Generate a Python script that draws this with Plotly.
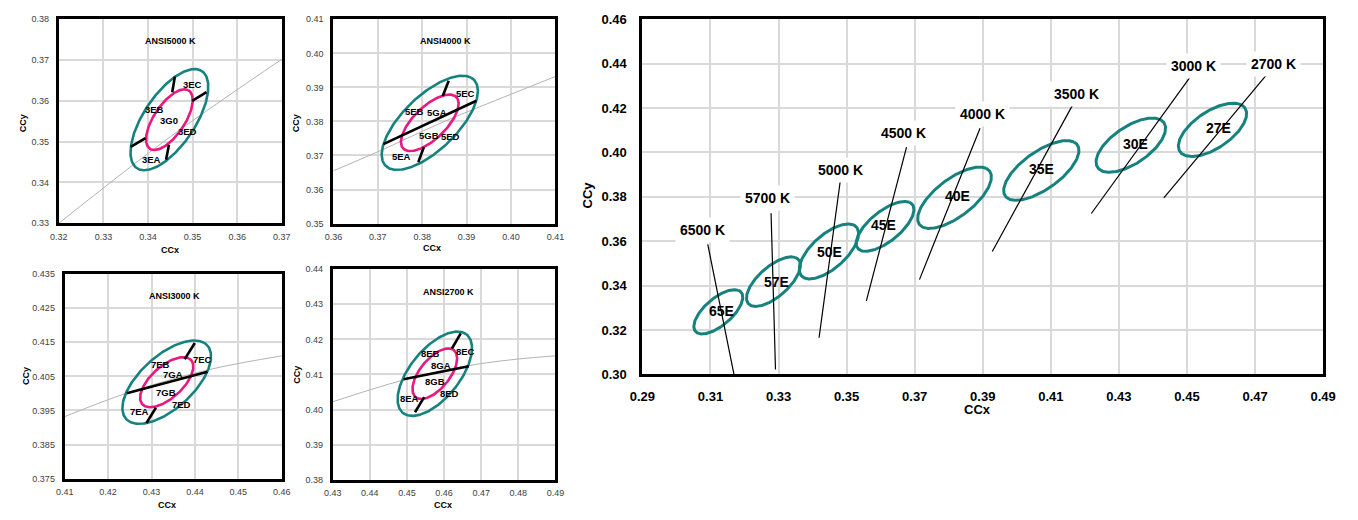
import numpy as np
import plotly.graph_objects as go

FONT = "Liberation Sans, Arial, sans-serif"
TEAL = "#16827e"
PINK = "#e8197f"
GRID = "#d9d9d9"
W, H = 1358, 520

# ---------------- big chart data ----------------
cct_labels = ["6500 K", "5700 K", "5000 K", "4500 K", "4000 K", "3500 K", "3000 K", "2700 K"]
bin_labels = ["65E", "57E", "50E", "45E", "40E", "35E", "30E", "27E"]
ell_cx = [0.3123, 0.3285, 0.3448, 0.3613, 0.3817, 0.4072, 0.4335, 0.4575]
ell_cy = [0.3282, 0.3418, 0.3554, 0.3667, 0.3796, 0.3919, 0.4033, 0.4102]
ell_a = [0.01135, 0.01264, 0.01397, 0.0130, 0.0162, 0.0160, 0.0144, 0.0141]
ell_b = [0.00475, 0.00525, 0.0059, 0.0054, 0.0068, 0.0069, 0.0068, 0.0068]
ell_theta = [58.4, 58.9, 59.5, 56.4, 55.0, 53.2, 53.1, 53.4]
bin_lx = [0.3132, 0.3293, 0.3450, 0.3608, 0.3825, 0.4074, 0.4348, 0.4593]
bin_ly = [0.3287, 0.3418, 0.3550, 0.3671, 0.3805, 0.3926, 0.4040, 0.4112]
iso_top_x = [0.3092, 0.3278, 0.3481, 0.3676, 0.3892, 0.4163, 0.4507, 0.4733]
iso_top_y = [0.3586, 0.3726, 0.3868, 0.4024, 0.4109, 0.4211, 0.4335, 0.4349]
iso_bot_x = [0.3169, 0.3291, 0.3419, 0.3558, 0.3714, 0.3928, 0.4219, 0.4432]
iso_bot_y = [0.3000, 0.3022, 0.3165, 0.3331, 0.3427, 0.3554, 0.3725, 0.3795]
cct_lx = [0.3078, 0.3267, 0.3481, 0.3667, 0.3899, 0.4176, 0.4518, 0.4754]
cct_ly = [0.3649, 0.3795, 0.3923, 0.4090, 0.4174, 0.4265, 0.4389, 0.4400]
big_xticks = [0.29, 0.31, 0.33, 0.35, 0.37, 0.39, 0.41, 0.43, 0.45, 0.47, 0.49]
big_yticks = [0.30, 0.32, 0.34, 0.36, 0.38, 0.40, 0.42, 0.44, 0.46]

# ---------------- small panels data ----------------
inner_scale = 0.6  # 3-step inside 5-step ellipse
panel_titles = ["ANSI5000 K", "ANSI4000 K", "ANSI3000 K", "ANSI2700 K"]
panel_ell = [2, 4, 6, 7]
panel_title_x = [0.3451, 0.38515, 0.43523, 0.46114]
panel_title_y = [0.3747, 0.40364, 0.42855, 0.43354]
panel_xrange = [[0.32, 0.37], [0.36, 0.41], [0.41, 0.46], [0.43, 0.49]]
panel_yrange = [[0.33, 0.38], [0.35, 0.41], [0.375, 0.435], [0.38, 0.44]]
panel_ytickfmt = [".2f", ".2f", ".3f", ".2f"]

locus_x = [[0.32, 0.345, 0.37],
           [0.36, 0.37, 0.385, 0.40, 0.41],
           [0.41, 0.4243, 0.4433, 0.46],
           [0.43, 0.44, 0.45, 0.46, 0.47, 0.48, 0.49]]
locus_y = [[0.330, 0.3512, 0.3702],
           [0.3655, 0.3711, 0.3800, 0.3880, 0.3932],
           [0.3932, 0.4001, 0.4070, 0.4110],
           [0.4022, 0.4056, 0.4087, 0.4112, 0.4131, 0.4144, 0.4153]]

seg_x = [
    [[0.33613, 0.33943], [0.34991, 0.35313], [0.34544, 0.34603], [0.34405, 0.34471]],
    [[0.37125, 0.39221], [0.38463, 0.38596], [0.37912, 0.38037]],
    [[0.42431, 0.44291], [0.43764, 0.43997], [0.42883, 0.43101]],
    [[0.44908, 0.46668], [0.46212, 0.46449], [0.45217, 0.45463]],
]
seg_y = [
    [[0.34873, 0.35087], [0.36000, 0.36214], [0.36214, 0.36595], [0.34556, 0.34928]],
    [[0.37336, 0.38608], [0.38750, 0.39196], [0.36804, 0.37250]],
    [[0.40006, 0.40633], [0.41003, 0.41478], [0.39133, 0.39579]],
    [[0.40862, 0.41231], [0.41739, 0.42173], [0.39921, 0.40353]],
]

sub_text = [["3EC", "3EB", "3G0", "3ED", "3EA"],
            ["5EC", "5EB", "5GA", "5GB", "5ED", "5EA"],
            ["7EB", "7EC", "7GA", "7GB", "7ED", "7EA"],
            ["8EB", "8EC", "8GA", "8GB", "8ED", "8EA"]]
sub_x = [[0.35006, 0.34148, 0.34479, 0.34896, 0.34089],
         [0.38985, 0.37824, 0.38331, 0.38147, 0.38632, 0.37544],
         [0.43199, 0.44178, 0.43500, 0.43342, 0.43688, 0.42724],
         [0.45631, 0.46581, 0.45921, 0.45763, 0.46141, 0.45067]]
sub_y = [[0.36413, 0.35794, 0.35524, 0.35238, 0.34556],
         [0.38826, 0.38294, 0.38275, 0.37592, 0.37554, 0.36956],
         [0.40861, 0.40984, 0.40567, 0.40016, 0.39684, 0.39484],
         [0.41600, 0.41666, 0.41250, 0.40788, 0.40447, 0.40308]]


def ellipse(cx, cy, a, b, th_deg, n=240):
    t = np.linspace(0, 2 * np.pi, n)
    th = np.radians(th_deg)
    x = cx + a * np.cos(t) * np.cos(th) - b * np.sin(t) * np.sin(th)
    y = cy + a * np.cos(t) * np.sin(th) + b * np.sin(t) * np.cos(th)
    return x, y


fig = go.Figure()

# pixel layout of plot areas (left, right, top, bottom)
boxes = [(46.7, 274.0, 12.7, 222.7),
         (326.7, 553.0, 12.7, 223.0),
         (52.7, 274.0, 275.0, 485.7),
         (326.0, 553.0, 270.0, 486.7),
         (641.7, 1335.7, 12.7, 378.3)]

layout_axes = {}
for i, (l, r, t, b) in enumerate(boxes):
    k = "" if i == 0 else str(i + 1)
    big = (i == 4)
    xd = [l / W, r / W]
    yd = [1 - b / H, 1 - t / H]
    common = dict(showgrid=True, gridcolor=GRID, gridwidth=2 if big else 1.5,
                  showline=True, linecolor="black", linewidth=3,
                  mirror=True, zeroline=False, ticks="outside",
                  tickcolor="rgba(0,0,0,0)", fixedrange=True)
    if big:
        xa = dict(domain=xd, anchor="y5", range=[0.29, 0.49], tickvals=big_xticks,
                  tickformat=".2f", ticklen=8,
                  tickfont=dict(family=FONT, size=13, color="black", weight="bold"), **common)
        ya = dict(domain=yd, anchor="x5", range=[0.30, 0.46], tickvals=big_yticks,
                  tickformat=".2f", ticklen=10,
                  tickfont=dict(family=FONT, size=13, color="black", weight="bold"), **common)
    else:
        xr = panel_xrange[i]
        yr = panel_yrange[i]
        xa = dict(domain=xd, anchor="y" + k, range=xr, dtick=0.01, tick0=xr[0],
                  tickformat=".2f", ticklen=3,
                  tickfont=dict(family=FONT, size=9, color="#404040"), **common)
        ya = dict(domain=yd, anchor="x" + k, range=yr, dtick=0.01, tick0=yr[0],
                  tickformat=panel_ytickfmt[i], ticklen=5,
                  tickfont=dict(family=FONT, size=9, color="#404040"), **common)
    layout_axes["xaxis" + k] = xa
    layout_axes["yaxis" + k] = ya

annotations = []

# ---- small panels ----
for p in range(4):
    k = "" if p == 0 else str(p + 1)
    xref, yref = "x" + k, "y" + k
    fig.add_trace(go.Scatter(x=locus_x[p], y=locus_y[p], mode="lines",
                             line=dict(color="#b3b3b3", width=1, shape="spline"),
                             xaxis=xref, yaxis=yref, showlegend=False, hoverinfo="skip"))
    e = panel_ell[p]
    ox, oy = ellipse(ell_cx[e], ell_cy[e], ell_a[e], ell_b[e], ell_theta[e])
    ix, iy = ellipse(ell_cx[e], ell_cy[e], ell_a[e] * inner_scale, ell_b[e] * inner_scale, ell_theta[e])
    fig.add_trace(go.Scatter(x=ox, y=oy, mode="lines", line=dict(color=TEAL, width=2.6),
                             xaxis=xref, yaxis=yref, showlegend=False, hoverinfo="skip"))
    fig.add_trace(go.Scatter(x=ix, y=iy, mode="lines", line=dict(color=PINK, width=2.6),
                             xaxis=xref, yaxis=yref, showlegend=False, hoverinfo="skip"))
    for sx, sy in zip(seg_x[p], seg_y[p]):
        fig.add_trace(go.Scatter(x=sx, y=sy, mode="lines", line=dict(color="black", width=2.6),
                                 xaxis=xref, yaxis=yref, showlegend=False, hoverinfo="skip"))
    for txt, tx, ty in zip(sub_text[p], sub_x[p], sub_y[p]):
        annotations.append(dict(x=tx, y=ty, xref=xref, yref=yref, text=txt, showarrow=False,
                                font=dict(family=FONT, size=9.5, color="black", weight="bold")))
    annotations.append(dict(x=panel_title_x[p], y=panel_title_y[p], xref=xref, yref=yref,
                            text=panel_titles[p], showarrow=False,
                            font=dict(family=FONT, size=9, color="black", weight="bold")))

# ---- big chart ----
for i in range(len(cct_labels)):
    ex, ey = ellipse(ell_cx[i], ell_cy[i], ell_a[i], ell_b[i], ell_theta[i])
    fig.add_trace(go.Scatter(x=ex, y=ey, mode="lines", line=dict(color=TEAL, width=3),
                             xaxis="x5", yaxis="y5", showlegend=False, hoverinfo="skip"))
for i in range(len(cct_labels)):
    fig.add_trace(go.Scatter(x=[iso_top_x[i], iso_bot_x[i]], y=[iso_top_y[i], iso_bot_y[i]],
                             mode="lines", line=dict(color="black", width=1.2),
                             xaxis="x5", yaxis="y5", showlegend=False, hoverinfo="skip"))
for i in range(len(cct_labels)):
    annotations.append(dict(x=bin_lx[i], y=bin_ly[i], xref="x5", yref="y5", text=bin_labels[i],
                            showarrow=False,
                            font=dict(family=FONT, size=14, color="black", weight="bold")))
    annotations.append(dict(x=cct_lx[i], y=cct_ly[i], xref="x5", yref="y5", text=cct_labels[i],
                            showarrow=False, bgcolor="white", borderpad=4,
                            font=dict(family=FONT, size=14, color="black", weight="bold")))

# ---- axis titles (pixel positions) ----
xtitles = [(160, 250, 9), (426.7, 248.3, 9), (156.7, 512.3, 9), (438.3, 512.3, 9), (983, 414, 13)]
ytitles = [(10, 120, 9), (288.3, 120, 9), (13.3, 380, 9), (290, 378.3, 9), (586, 193.3, 13)]
for (px, py, fs) in xtitles:
    annotations.append(dict(x=px / W, y=1 - py / H, xref="paper", yref="paper", text="CCx",
                            showarrow=False, xanchor="center", yanchor="middle",
                            font=dict(family=FONT, size=fs, color="black", weight="bold")))
for (px, py, fs) in ytitles:
    annotations.append(dict(x=px / W, y=1 - py / H, xref="paper", yref="paper", text="CCy",
                            showarrow=False, textangle=-90, xanchor="center", yanchor="middle",
                            font=dict(family=FONT, size=fs, color="black", weight="bold")))

fig.update_layout(width=W, height=H, margin=dict(l=0, r=0, t=0, b=0),
                  paper_bgcolor="white", plot_bgcolor="white",
                  annotations=annotations, showlegend=False, **layout_axes)

fig.write_html("out.html", config={"displayModeBar": False})
